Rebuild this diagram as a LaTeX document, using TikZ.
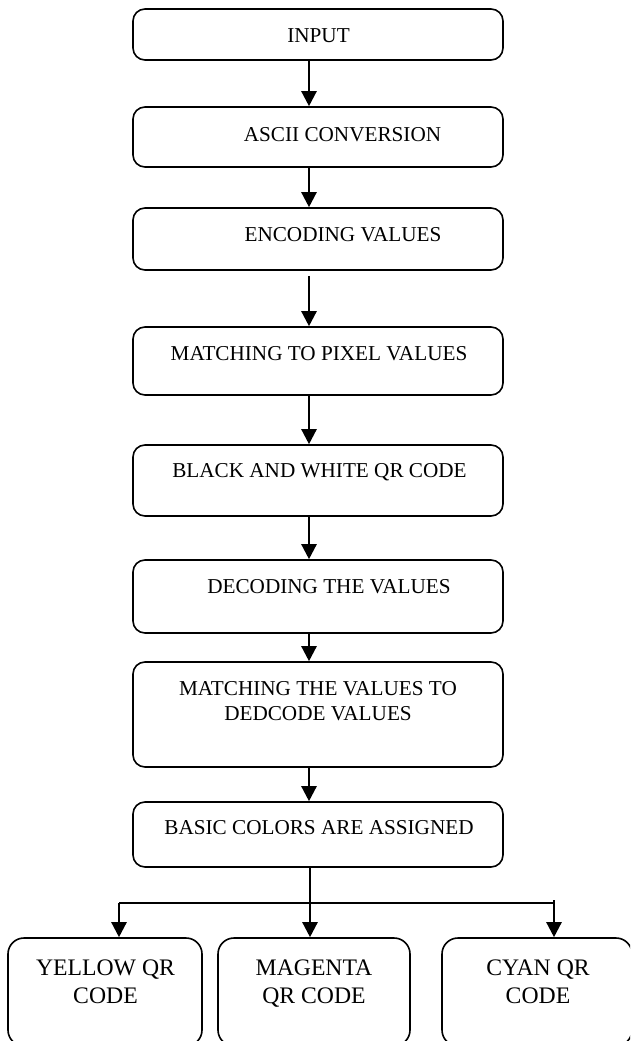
\documentclass[tikz,border=0pt]{standalone}
\usepackage{fontspec}
\setmainfont{Liberation Serif}
\usetikzlibrary{arrows.meta,calc}
\begin{document}
\begin{tikzpicture}[x=1pt,y=-1pt,
  box/.style={draw,line width=1.6pt,rounded corners=12pt,inner sep=0pt,minimum width=370pt},
  sbox/.style={draw,line width=1.6pt,rounded corners=16pt,inner sep=0pt,minimum height=108pt},
  lbl/.style={anchor=north,inner sep=0pt,align=center,font=\fontsize{21.2}{25}\selectfont},
  slbl/.style={anchor=north,inner sep=0pt,align=center,font=\fontsize{23.7}{28}\selectfont},
  arr/.style={line width=2.4pt,-{Triangle[width=15pt,length=15pt]}},
  ln/.style={line width=2.4pt}]
\useasboundingbox (0,0) rectangle (630,1041);
\clip (0,0) rectangle (630,1041);
\fill[white] (0,0) rectangle (630,1041);
% boxes
\node[box,minimum height=51pt] (b1) at (318,34.5) {};
\node[box,minimum height=60pt] (b2) at (318,137) {};
\node[box,minimum height=62pt] (b3) at (318,239) {};
\node[box,minimum height=68pt] (b4) at (318,361) {};
\node[box,minimum height=71pt] (b5) at (318,480.5) {};
\node[box,minimum height=73pt] (b6) at (318,596.5) {};
\node[box,minimum height=105pt] (b7) at (318,714.5) {};
\node[box,minimum height=65pt] (b8) at (318,834.5) {};
\node[sbox,minimum width=194pt] (b9) at (105,992) {};
\node[sbox,minimum width=192pt] (b10) at (314,992) {};
\node[sbox,minimum width=190pt] (b11) at (537,992) {};
% labels
\node[lbl] (t1) at (318.5,28) {INPUT};
\node[lbl] (t2) at (342.5,127) {ASCII CONVERSION};
\node[lbl] (t3) at (343,227) {ENCODING VALUES};
\node[lbl] (t4) at (319,346) {MATCHING TO PIXEL VALUES};
\node[lbl] (t5) at (319.5,463) {BLACK AND WHITE QR CODE};
\node[lbl] (t6) at (329,579) {DECODING THE VALUES};
\node[lbl] (t7) at (318,681) {MATCHING THE VALUES TO\\DEDCODE VALUES};
\node[lbl] (t8) at (319,820) {BASIC COLORS ARE ASSIGNED};
\node[slbl] (t9) at (105.5,960) {YELLOW QR\\CODE};
\node[slbl] (t10) at (314,960) {MAGENTA\\QR CODE};
\node[slbl] (t11) at (538,960) {CYAN QR\\CODE};
% connectors
\coordinate (ax) at (309,0);
\draw[arr] (b1.south -| ax) -- (b2.north -| ax);
\draw[arr] (b2.south -| ax) -- (b3.north -| ax);
\draw[arr,shorten <=5pt] (b3.south -| ax) -- (b4.north -| ax);
\draw[arr] (b4.south -| ax) -- (b5.north -| ax);
\draw[arr] (b5.south -| ax) -- (b6.north -| ax);
\draw[arr] (b6.south -| ax) -- (b7.north -| ax);
\draw[arr] (b7.south -| ax) -- (b8.north -| ax);
\coordinate (mx) at (310,0);
\draw[arr] (b8.south -| mx) -- (b10.north -| mx);
\coordinate (hl) at (119,903);
\coordinate (hr) at (554,903);
\coordinate (hrt) at (554,900);
\draw[ln] (hl) -- (hr);
\draw[arr] (hl) -- (b9.north -| hl);
\draw[arr] (hrt) -- (b11.north -| hrt);
\end{tikzpicture}
\end{document}
